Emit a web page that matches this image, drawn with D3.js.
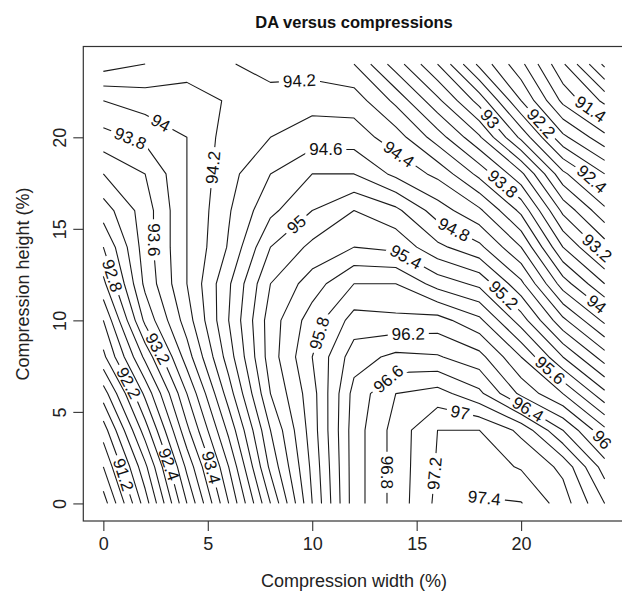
<!DOCTYPE html>
<html><head><meta charset="utf-8">
<script src="https://cdn.jsdelivr.net/npm/d3@7"></script>
<style>body{margin:0;background:#fff}svg{display:block}</style>
</head><body><svg id="c" width="622" height="594"></svg>
<script>
// ---- data ----
const widths  = [0,2,4,6,8,10,12,14,16,18,20,22,24];   // compression width (%)
const heights = [0,2,4,6,8,10,12,14,16,18,20,22,24];   // compression height (%)
// DA (%) per row of height, columns follow widths
const daH00 = [90.5, 91.5, 92.6, 93.6, 94.6, 95.6, 96.5, 96.88, 97.25, 97.42, 97.41, 97.1, 96.6];
const daH02 = [90.8, 91.75, 92.85, 93.8, 94.85, 95.65, 96.5, 96.88, 97.22, 97.3, 97.18, 96.95, 96.3];
const daH04 = [91.1, 92.1, 93.15, 94.05, 95.0, 95.7, 96.5, 96.88, 97.2, 97.2, 96.95, 96.4, 95.85];
const daH06 = [91.5, 92.45, 93.4, 94.3, 95.2, 95.72, 96.47, 96.8, 96.88, 96.65, 96.15, 95.8, 95.25];
const daH08 = [91.95, 92.85, 93.7, 94.5, 95.3, 95.8, 96.31, 96.45, 96.42, 96.27, 95.8, 95.2, 94.7];
const daH10 = [92.2, 93.25, 93.9, 94.6, 95.3, 95.7, 96.08, 96.05, 96.08, 95.85, 95.3, 94.65, 94.15];
const daH12 = [92.55, 93.45, 94.0, 94.57, 95.2, 95.5, 95.8, 95.8, 95.52, 95.35, 94.85, 94.1, 93.6];
const daH14 = [92.8, 93.5, 94.0, 94.42, 95.0, 95.25, 95.4, 95.35, 95.05, 94.85, 94.4, 93.6, 93.1];
const daH16 = [93.1, 93.5, 94.0, 94.38, 94.75, 95.0, 95.2, 95.05, 94.7, 94.44, 93.95, 93.15, 92.65];
const daH18 = [93.4, 93.6, 94.0, 94.33, 94.6, 94.8, 94.8, 94.55, 94.35, 93.94, 93.45, 92.65, 92.2];
const daH20 = [93.73, 93.85, 94.0, 94.29, 94.4, 94.5, 94.5, 94.3, 93.9, 93.43, 92.75, 92.05, 91.66];
const daH22 = [94.0, 94.09, 94.1, 94.22, 94.3, 94.33, 94.31, 93.95, 93.45, 92.92, 92.2, 91.55, 91.15];
const daH24 = [94.5, 94.4, 94.3, 94.22, 94.1, 94.1, 94.0, 93.5, 93.0, 92.35, 91.85, 91.23, 90.55];
const daRows = [daH00, daH02, daH04, daH06, daH08, daH10, daH12, daH14, daH16, daH18, daH20, daH22, daH24];

// contour levels (step 0.2)
const levelTenths = d3.range(904, 976, 2);
const levels = levelTenths.map(v => v / 10);

// inline labels: level, approx width, approx height where the label sits, reading direction for vertical labels
const labelLevels = [94.2, 94, 93.8, 94.2, 94.6, 94.4, 93, 92.2, 91.4, 93.8, 92.4, 95, 94.8, 93.2, 93.6, 95.4, 92.8, 95.2, 94, 95.8, 96.2, 93.2, 92.2, 95.6, 96.6, 96.4, 97, 96, 91.2, 92.4, 93.4, 96.8, 97.2, 97.4];
const labelAtW   = [9.4, 2.8, 1.2, 5.2, 10.65, 14.25, 18.6, 20.9, 23.3, 19.0, 23.3, 9.35, 16.8, 23.6, 2.6, 14.5, 0.45, 19.0, 23.45, 10.2, 14.6, 2.7, 1.25, 21.3, 14.05, 20.3, 17.1, 23.8, 1.2, 3.3, 5.3, 13.7, 15.7, 18.25];
const labelAtH   = [22.8, 20.9, 19.7, 18.35, 18.7, 19.25, 21.1, 20.7, 21.5, 17.3, 17.6, 15.1, 15.0, 13.9, 14.4, 13.5, 12.45, 11.2, 10.65, 9.35, 9.2, 8.5, 6.6, 7.15, 6.25, 5.1, 5.1, 3.4, 1.65, 2.2, 2.0, 1.7, 1.65, 0.35];
const labelDir   = [0, 0, 0, -1, 0, 0, 0, 0, 0, 0, 0, 0, 0, 0, 1, 0, 0, 0, 0, 0, 0, 0, 0, 0, 0, 0, 0, 0, 0, 0, 0, 1, -1, 0];

const xTicks = [0, 5, 10, 15, 20];
const yTicks = [0, 5, 10, 15, 20];
const titleText = "DA versus compressions";
const xTitle = "Compression width (%)";
const yTitle = "Compression height (%)";

// ---- drawing ----
const W = 622, H = 594;
const svg = d3.select("#c");
const x = d3.scaleLinear().domain([-0.96, 24.96]).range([83.3, 624.7]);
const y = d3.scaleLinear().domain([-0.96, 24.96]).range([521, 46.5]);
const nx = widths.length, ny = heights.length;
const values = daRows.flat();
const gX = g => widths[0] + (g - 0.5) * (widths[1] - widths[0]);
const gY = g => heights[0] + (g - 0.5) * (heights[1] - heights[0]);

const contours = d3.contours().size([nx, ny]).thresholds(levels)(values);

function onBorder(p) { return p[0] <= 0 || p[0] >= nx || p[1] <= 0 || p[1] >= ny; }
function ringToLines(ring) {
  const n = ring.length - 1;
  const pts = ring.slice(0, n);
  const start = pts.findIndex(onBorder);
  if (start < 0) return [pts.concat([pts[0]])];
  const out = []; let cur = [];
  for (let k = 0; k <= n; k++) {
    const p = pts[(start + k) % n];
    if (onBorder(p)) { if (cur.length > 1) out.push(cur); cur = []; }
    else cur.push(p);
  }
  if (cur.length > 1) out.push(cur);
  return out;
}

const linesByLevel = new Map();
contours.forEach(c => {
  const lines = [];
  c.coordinates.forEach(poly => poly.forEach(ring => {
    ringToLines(ring).forEach(l => lines.push(l.map(p => [x(gX(p[0])), y(gY(p[1]))])));
  }));
  linesByLevel.set(Math.round(c.value * 10), lines);
});

const defs = svg.append("defs");
const gLines = svg.append("g");
const gLabels = svg.append("g");
const fmt = v => String(+v.toFixed(1));
const labelFont = 17;
const font = "Liberation Sans, Arial, sans-serif";

// place labels on their contour, nearest to the reading position
const labelBoxes = new Map();
labelLevels.forEach((lv, i) => {
  const key = Math.round(lv * 10);
  const lines = linesByLevel.get(key) || [];
  const ax = x(labelAtW[i]), ay = y(labelAtH[i]);
  let best = null;
  lines.forEach(l => {
    for (let k = 0; k < l.length - 1; k++) {
      const [x1, y1] = l[k], [x2, y2] = l[k + 1];
      const dx = x2 - x1, dy = y2 - y1, L2 = dx * dx + dy * dy;
      let t = L2 > 0 ? ((ax - x1) * dx + (ay - y1) * dy) / L2 : 0;
      t = Math.max(0, Math.min(1, t));
      const px = x1 + t * dx, py = y1 + t * dy;
      const d = (px - ax) ** 2 + (py - ay) ** 2;
      if (!best || d < best.d) best = { d, px, py, ang: Math.atan2(dy, dx) * 180 / Math.PI };
    }
  });
  if (!best) return;
  let a = best.ang;
  if (a > 90) a -= 180;
  if (a <= -90) a += 180;
  const pref = labelDir[i];
  if (pref && Math.abs(a) > 55 && Math.sign(a) !== pref) a += (a > 0 ? -180 : 180);
  const t = gLabels.append("text")
    .attr("transform", `translate(${best.px},${best.py}) rotate(${a})`)
    .attr("text-anchor", "middle").attr("dy", "0.35em")
    .attr("font-family", font)
    .attr("font-size", labelFont).attr("fill", "#111")
    .text(fmt(lv));
  const w = t.node().getComputedTextLength();
  if (!labelBoxes.has(key)) labelBoxes.set(key, []);
  labelBoxes.get(key).push({ px: best.px, py: best.py, a, w });
});

// draw lines, masked where labels sit
const lineGen = d3.line();
levelTenths.forEach(key => {
  const lines = linesByLevel.get(key) || [];
  if (!lines.length) return;
  let maskRef = null;
  const boxes = labelBoxes.get(key);
  if (boxes) {
    const m = defs.append("mask").attr("id", "m" + key)
      .attr("maskUnits", "userSpaceOnUse").attr("x", 0).attr("y", 0).attr("width", W).attr("height", H);
    m.append("rect").attr("x", 0).attr("y", 0).attr("width", W).attr("height", H).attr("fill", "#fff");
    boxes.forEach(b => {
      m.append("rect").attr("x", -b.w / 2 - 4).attr("y", -7).attr("width", b.w + 8).attr("height", 14)
        .attr("transform", `translate(${b.px},${b.py}) rotate(${b.a})`).attr("fill", "#000");
    });
    maskRef = `url(#m${key})`;
  }
  const g = gLines.append("g");
  if (maskRef) g.attr("mask", maskRef);
  lines.forEach(l => g.append("path").attr("d", lineGen(l))
    .attr("fill", "none").attr("stroke", "#1a1a1a").attr("stroke-width", 1.1).attr("stroke-linejoin", "round"));
});

// box
svg.append("rect").attr("x", x.range()[0]).attr("y", y.range()[1])
  .attr("width", x.range()[1] - x.range()[0]).attr("height", y.range()[0] - y.range()[1])
  .attr("fill", "none").attr("stroke", "#333").attr("stroke-width", 1.2);

// x axis
const gx = svg.append("g").attr("transform", `translate(0,${y.range()[0]})`)
  .call(d3.axisBottom(x).tickValues(xTicks).tickSize(10).tickPadding(6).tickSizeOuter(0));
gx.select(".domain").remove();
gx.selectAll("line").attr("stroke", "#333").attr("stroke-width", 1.1);
gx.selectAll("text").attr("font-family", font).attr("font-size", 18).attr("fill", "#222");
// y axis
const gy = svg.append("g").attr("transform", `translate(${x.range()[0]},0)`)
  .call(d3.axisLeft(y).tickValues(yTicks).tickSize(10).tickPadding(6).tickSizeOuter(0));
gy.select(".domain").remove();
gy.selectAll("line").attr("stroke", "#333").attr("stroke-width", 1.1);
gy.selectAll("text").attr("font-family", font).attr("font-size", 18).attr("fill", "#222")
  .attr("transform", "rotate(-90)").attr("x", 0).attr("y", -17).attr("dy", "0")
  .attr("text-anchor", "middle");

// titles
svg.append("text").attr("x", 354).attr("y", 28).attr("text-anchor", "middle")
  .attr("font-family", font).attr("font-size", 16.5).attr("font-weight", "bold").attr("fill", "#111").text(titleText);
svg.append("text").attr("x", 354).attr("y", 587).attr("text-anchor", "middle")
  .attr("font-family", font).attr("font-size", 18).attr("fill", "#222").text(xTitle);
svg.append("text").attr("transform", `translate(29,284) rotate(-90)`).attr("text-anchor", "middle")
  .attr("font-family", font).attr("font-size", 18).attr("fill", "#222").text(yTitle);
</script>
</body></html>
